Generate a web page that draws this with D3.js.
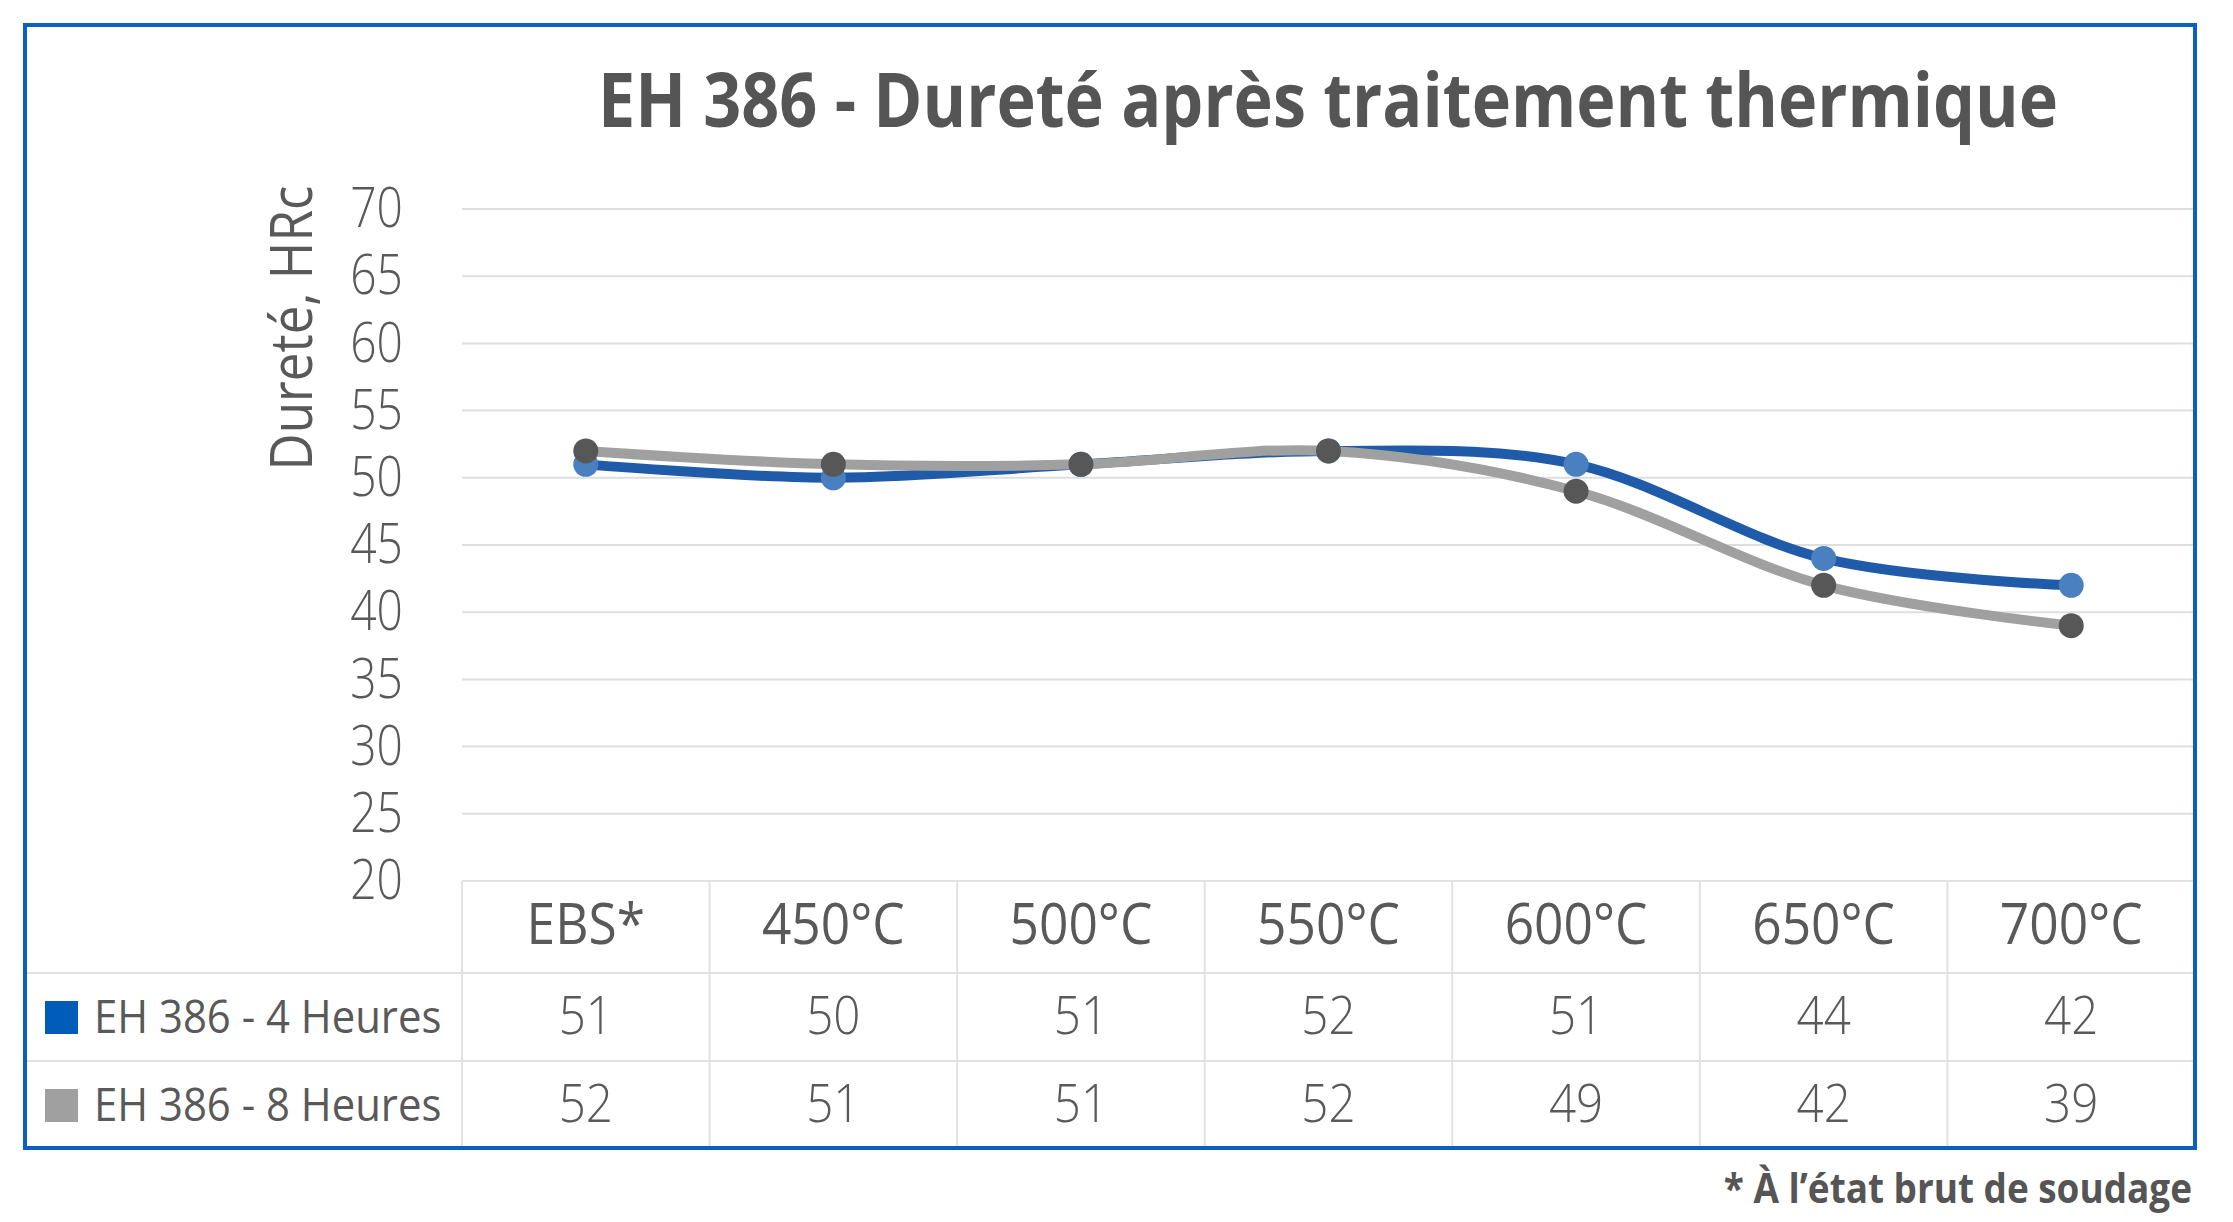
<!DOCTYPE html>
<html><head><meta charset="utf-8">
<script src="https://cdn.jsdelivr.net/npm/d3@7"></script>
<style>body{margin:0;background:#fff}svg{display:block}</style>
</head><body>
<svg id="c" width="2233" height="1222"></svg>
<script>
const categories = ["EBS*","450°C","500°C","550°C","600°C","650°C","700°C"];
const series4h = [51,50,51,52,51,44,42];
const series8h = [52,51,51,52,49,42,39];
const seriesNames = ["EH 386 - 4 Heures","EH 386 - 8 Heures"];
const yTicks = [20,25,30,35,40,45,50,55,60,65,70];
const title = "EH 386 - Dureté après traitement thermique";
const yTitle = "Dureté, HRc";
const footnote = "* À l’état brut de soudage";

const svg = d3.select("#c");
const FONT = "'Open Sans', 'Noto Sans', sans-serif";
const TXT = "#595959";
function condense(sel, f){
  sel.each(function(){
    const w = this.getComputedTextLength();
    d3.select(this).attr("textLength", w*f).attr("lengthAdjust","spacingAndGlyphs");
  });
}
svg.append("rect").attr("width",2233).attr("height",1222).attr("fill","#fff");

const x = d3.scaleBand().domain(categories).range([462, 2195]);
const y = d3.scaleLinear().domain([20,70]).range([881, 209]);
const rowY = [881, 973, 1061, 1148];

// gridlines
svg.append("g").selectAll("line").data(yTicks.slice(1)).join("line")
  .attr("x1",462).attr("x2",2195).attr("y1",d=>y(d)).attr("y2",d=>y(d))
  .attr("stroke","#dedede").attr("stroke-width",2);

// y tick labels
const yl = svg.append("g").selectAll("text").data(yTicks).join("text")
  .attr("x",403).attr("y",d=>y(d)).attr("dy","0.33em").attr("text-anchor","end")
  .attr("font-family",FONT).attr("font-weight",300).attr("font-size",55).attr("fill",TXT)
  .text(d=>d);
condense(yl,0.84);

// y title
const yt = svg.append("text").attr("transform","translate(312,328) rotate(-90)")
  .attr("text-anchor","middle").attr("font-family",FONT).attr("font-size",58).attr("fill",TXT)
  .text(yTitle);
condense(yt,0.88);

// title
const tt = svg.append("text").attr("x",1328).attr("y",127).attr("text-anchor","middle")
  .attr("font-family",FONT).attr("font-weight",700).attr("font-size",76).attr("fill","#555")
  .text(title);
condense(tt,0.875);

// data table lines
const tg = svg.append("g").attr("stroke","#e2e2e2").attr("stroke-width",2);
tg.append("line").attr("x1",462).attr("x2",2195).attr("y1",rowY[0]).attr("y2",rowY[0]);
tg.selectAll(".h").data([rowY[1],rowY[2]]).join("line")
  .attr("x1",25).attr("x2",2195).attr("y1",d=>d).attr("y2",d=>d);
tg.selectAll(".v").data(categories).join("line")
  .attr("x1",d=>x(d)).attr("x2",d=>x(d)).attr("y1",rowY[0]).attr("y2",rowY[3]);

// headers
const hd = svg.append("g").selectAll("text").data(categories).join("text")
  .attr("x",d=>x(d)+x.bandwidth()/2).attr("y",944).attr("text-anchor","middle")
  .attr("font-family",FONT).attr("font-size",56).attr("fill",TXT).text(d=>d);
condense(hd,0.92);

const seriesData = [series4h, series8h];
const lineColors = ["#1f5ba8","#a0a0a0"];
const markerColors = ["#4a80c0","#575757"];
const keyColors = ["#005cb9","#a0a0a0"];
const valBase = [1034, 1122];

seriesData.forEach((vals,si)=>{
  const vt = svg.append("g").selectAll("text").data(vals).join("text")
    .attr("x",(d,i)=>x(categories[i])+x.bandwidth()/2).attr("y",valBase[si]).attr("text-anchor","middle")
    .attr("font-family",FONT).attr("font-weight",300).attr("font-size",54).attr("fill",TXT).text(d=>d);
  condense(vt,0.88);
  svg.append("rect").attr("x",45).attr("y",valBase[si]-33).attr("width",33).attr("height",33).attr("fill",keyColors[si]);
  const lt = svg.append("text").attr("x",94).attr("y",valBase[si]-1)
    .attr("font-family",FONT).attr("font-size",46).attr("fill",TXT).text(seriesNames[si]);
  condense(lt,0.91);
});

// lines
const line = d3.line().x((d,i)=>x(categories[i])+x.bandwidth()/2).y(d=>y(d)).curve(d3.curveCardinal.tension(0));
seriesData.forEach((vals,si)=>{
  svg.append("path").attr("d",line(vals)).attr("fill","none").attr("stroke",lineColors[si])
    .attr("stroke-width",10).attr("stroke-linecap","round");
  svg.append("g").selectAll("circle").data(vals).join("circle")
    .attr("cx",(d,i)=>x(categories[i])+x.bandwidth()/2).attr("cy",d=>y(d)).attr("r",12.5)
    .attr("fill",markerColors[si]);
});

// border
svg.append("rect").attr("x",25).attr("y",25).attr("width",2170).attr("height",1123)
  .attr("fill","none").attr("stroke","#0a5fc0").attr("stroke-width",4);

// footnote
const fn = svg.append("text").attr("x",2192).attr("y",1203).attr("text-anchor","end")
  .attr("font-family",FONT).attr("font-weight",700).attr("font-size",41).attr("fill","#555").text(footnote);
condense(fn,0.9);
</script>
</body></html>
